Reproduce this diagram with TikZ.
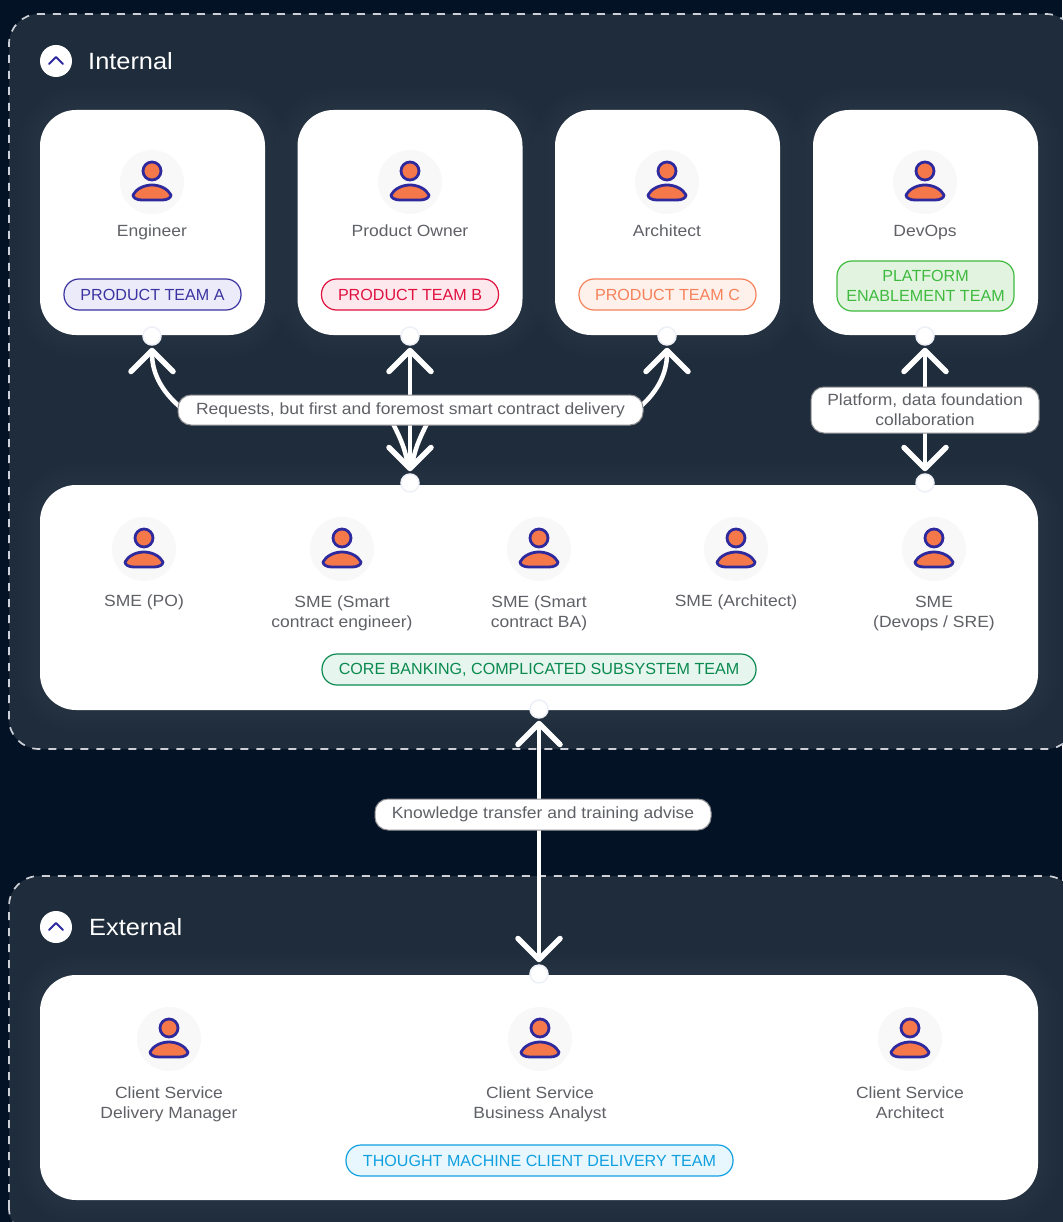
\documentclass[tikz,border=0pt]{standalone}
\usepackage{fontspec}
\setmainfont[FakeStretch=1.08]{Liberation Sans}
\newfontfamily\capsfont{Liberation Sans}
\usetikzlibrary{arrows.meta,positioning}

\definecolor{bgnavy}{HTML}{041226}
\definecolor{panelblue}{HTML}{1F2C3B}
\definecolor{dashgrey}{HTML}{CDD0D6}
\definecolor{textgrey}{HTML}{5F6166}
\definecolor{iconring}{HTML}{F8F8F9}
\definecolor{iconblue}{HTML}{2E2A9E}
\definecolor{iconorange}{HTML}{F5784A}
\definecolor{dotring}{HTML}{EEF0F8}
\definecolor{teama}{HTML}{3A33A0}
\definecolor{teamafill}{HTML}{ECEBFA}
\definecolor{teamb}{HTML}{E0103F}
\definecolor{teambfill}{HTML}{FDE9ED}
\definecolor{teamc}{HTML}{F5815A}
\definecolor{teamcfill}{HTML}{FEF1EC}
\definecolor{teamd}{HTML}{3FBA3F}
\definecolor{teamdfill}{HTML}{E2F4DF}
\definecolor{teamcore}{HTML}{0A8A50}
\definecolor{teamcorefill}{HTML}{E6F5ED}
\definecolor{teamclient}{HTML}{10A0E0}
\definecolor{teamclientfill}{HTML}{E8F6FD}

\tikzset{
  panel/.style={draw=dashgrey,fill=panelblue,line width=1.7pt,dash pattern=on 8pt off 8pt,rounded corners=30pt},
  card/.style={fill=white,rounded corners=36pt,minimum width=225pt,minimum height=225pt,inner sep=0pt,
    preaction={draw=white,draw opacity=.008,line width=44pt},
    preaction={draw=white,draw opacity=.008,line width=36pt},
    preaction={draw=white,draw opacity=.008,line width=28pt},
    preaction={draw=white,draw opacity=.008,line width=20pt},
    preaction={draw=white,draw opacity=.008,line width=12pt}},
  widecard/.style={card,minimum width=998pt},
  dot/.style={circle,fill=white,draw=dotring,line width=1.5pt,minimum size=18pt,inner sep=0pt},
  role/.style={text=textgrey,font=\fontsize{16.2}{20}\selectfont,align=center,inner sep=0pt},
  heading/.style={text=white,font=\fontsize{23.5}{28}\selectfont,anchor=base west,inner sep=0pt},
  chevron/.style={circle,fill=white,minimum size=32pt,inner sep=0pt},
  talk/.style={fill=white,draw=textgrey!70,line width=1pt,rounded corners=13pt,text=textgrey,font=\fontsize{16.2}{20}\selectfont,align=center,inner sep=0pt},
  team/.style={line width=1.2pt,rounded corners=15pt,minimum width=177pt,minimum height=31pt,font=\capsfont\fontsize{16.1}{20}\selectfont,align=center,inner sep=0pt},
  link/.style={draw=white,line width=4.5pt,-{Straight Barb[length=21pt,width=42pt,round,line width=5.5pt]},shorten >=2pt},
  strand/.style={draw=white,line width=4.5pt,shorten >=6pt}
}

\newcommand{\personicon}[2]{
\node [circle,fill=iconring,minimum size=64pt,inner sep=0pt] (#1) at #2 {};
\draw [iconblue,fill=iconorange,line width=2.8pt,shift={(#1.center)}] (0,-11) circle (9pt);
\draw [iconblue,fill=iconorange,line width=2.8pt,line join=round,shift={(#1.center)}] (-19,13) .. controls (-16,7) and (-8,3) .. (0,3) .. controls (8,3) and (16,7) .. (19,13) .. controls (19,16) and (15,18) .. (10,18) -- (-10,18) .. controls (-15,18) and (-19,16) .. (-19,13) -- cycle;
}

\begin{document}
\begin{tikzpicture}[x=1pt,y=-1pt]
\useasboundingbox (0,0) rectangle (1062,1222);
\fill [bgnavy] (0,0) rectangle (1062,1222);
\draw [panel] (9,749) -- (9,14) -- (1076,14) -- (1076,749) -- cycle;
\draw [panel] (9,1238) -- (9,876) -- (1076,876) -- (1076,1238) -- cycle;

\node [chevron] (internalicon) at (56,61) {};
\draw [iconblue,line width=1.8pt,line cap=round,line join=round] ([xshift=-7pt,yshift=-3pt]internalicon.center) -- ([yshift=4pt]internalicon.center) -- ([xshift=7pt,yshift=-3pt]internalicon.center);
\node [heading] (internal) at (88,69.5) {Internal};
\node [chevron] (externalicon) at (56,927) {};
\draw [iconblue,line width=1.8pt,line cap=round,line join=round] ([xshift=-7pt,yshift=-3pt]externalicon.center) -- ([yshift=4pt]externalicon.center) -- ([xshift=7pt,yshift=-3pt]externalicon.center);
\node [heading] (external) at (89,935.5) {External};

\node [card] (carda) at (152.5,222.5) {};
\node [card] (cardb) at (410,222.5) {};
\node [card] (cardc) at (667.5,222.5) {};
\node [card] (cardd) at (925.5,222.5) {};
\node [widecard] (core) at (539,597.5) {};
\node [widecard] (client) at (539,1087.5) {};

\personicon{enga}{(152,182)}
\node [role,anchor=base] (engineer) at (152,236.5) {Engineer};
\personicon{engb}{(410,182)}
\node [role,anchor=base] (owner) at (410,236.5) {Product Owner};
\personicon{engc}{(667,182)}
\node [role,anchor=base] (architect) at (667,236.5) {Architect};
\personicon{engd}{(925,182)}
\node [role,anchor=base] (devops) at (925,236.5) {DevOps};

\node [team,draw=teama,fill=teamafill,text=teama] (teama) at (152.5,294.5) {PRODUCT TEAM A};
\node [team,draw=teamb,fill=teambfill,text=teamb] (teamb) at (410,294.5) {PRODUCT TEAM B};
\node [team,draw=teamc,fill=teamcfill,text=teamc] (teamc) at (667.5,294.5) {PRODUCT TEAM C};
\node [team,draw=teamd,fill=teamdfill,text=teamd,minimum height=50pt] (teamd) at (925.5,286) {PLATFORM\\ENABLEMENT TEAM};

\personicon{smea}{(144,549)}
\node [role,anchor=base] (smepo) at (144,606.5) {SME (PO)};
\personicon{smeb}{(342,549)}
\node [role,anchor=north] (smeengineer) at (342,595.5) {SME (Smart\\contract engineer)};
\personicon{smec}{(539,549)}
\node [role,anchor=north] (smeba) at (539,595.5) {SME (Smart\\contract BA)};
\personicon{smed}{(736,549)}
\node [role,anchor=base] (smearchitect) at (736,606.5) {SME (Architect)};
\personicon{smee}{(934,549)}
\node [role,anchor=north] (smesre) at (934,595.5) {SME\\(Devops / SRE)};
\node [team,draw=teamcore,fill=teamcorefill,text=teamcore,minimum width=434pt] (teamcore) at (539,669.5) {CORE BANKING, COMPLICATED SUBSYSTEM TEAM};

\personicon{clienta}{(169,1039)}
\node [role,anchor=north] (manager) at (169,1086.5) {Client Service\\Delivery Manager};
\personicon{clientb}{(540,1039)}
\node [role,anchor=north] (analyst) at (540,1086.5) {Client Service\\Business Analyst};
\personicon{clientc}{(910,1039)}
\node [role,anchor=north] (clientarchitect) at (910,1086.5) {Client Service\\Architect};
\node [team,draw=teamclient,fill=teamclientfill,text=teamclient,minimum width=387pt] (teamclient) at (539.5,1160.5) {THOUGHT MACHINE CLIENT DELIVERY TEAM};

\node [dot] (dota) at (152,336) {};
\node [dot] (dotb) at (410,336) {};
\node [dot] (dotc) at (667,336) {};
\node [dot] (dotd) at (925,336) {};
\node [dot] (dotrequests) at (410,483) {};
\node [dot] (dotplatform) at (925,483) {};
\node [dot] (dotcore) at (539,709) {};
\node [dot] (dotclient) at (539,974) {};

\coordinate (reqleft) at (186,412);
\coordinate (reqright) at (634,412);
\coordinate (reqmid) at (410,410);
\coordinate (reqlowl) at (390,418);
\coordinate (reqlowr) at (430,418);
\coordinate (platmid) at (925,410);
\coordinate (knowmid) at (539,815);

\draw [link] (reqleft) to [out=142,in=-90] (dota);
\draw [link] (reqmid) -- (dotb);
\draw [link] (reqright) to [out=38,in=-90] (dotc);
\draw [strand] (reqlowl) to [out=-62,in=97] (dotrequests);
\draw [strand] (reqlowr) to [out=-118,in=83] (dotrequests);
\draw [link] (reqmid) -- (dotrequests);
\draw [link] (platmid) -- (dotd);
\draw [link] (platmid) -- (dotplatform);
\draw [link] (knowmid) -- (dotcore);
\draw [link] (knowmid) -- (dotclient);

\node [talk,minimum width=465pt,minimum height=30pt] (requests) at (410.5,410) {Requests, but first and foremost smart contract delivery};
\node [talk,minimum width=228pt,minimum height=46pt] (platform) at (925,410) {Platform, data foundation\\collaboration};
\node [talk,minimum width=336pt,minimum height=31pt] (knowledge) at (543,814.5) {Knowledge transfer and training advise};
\end{tikzpicture}
\end{document}
